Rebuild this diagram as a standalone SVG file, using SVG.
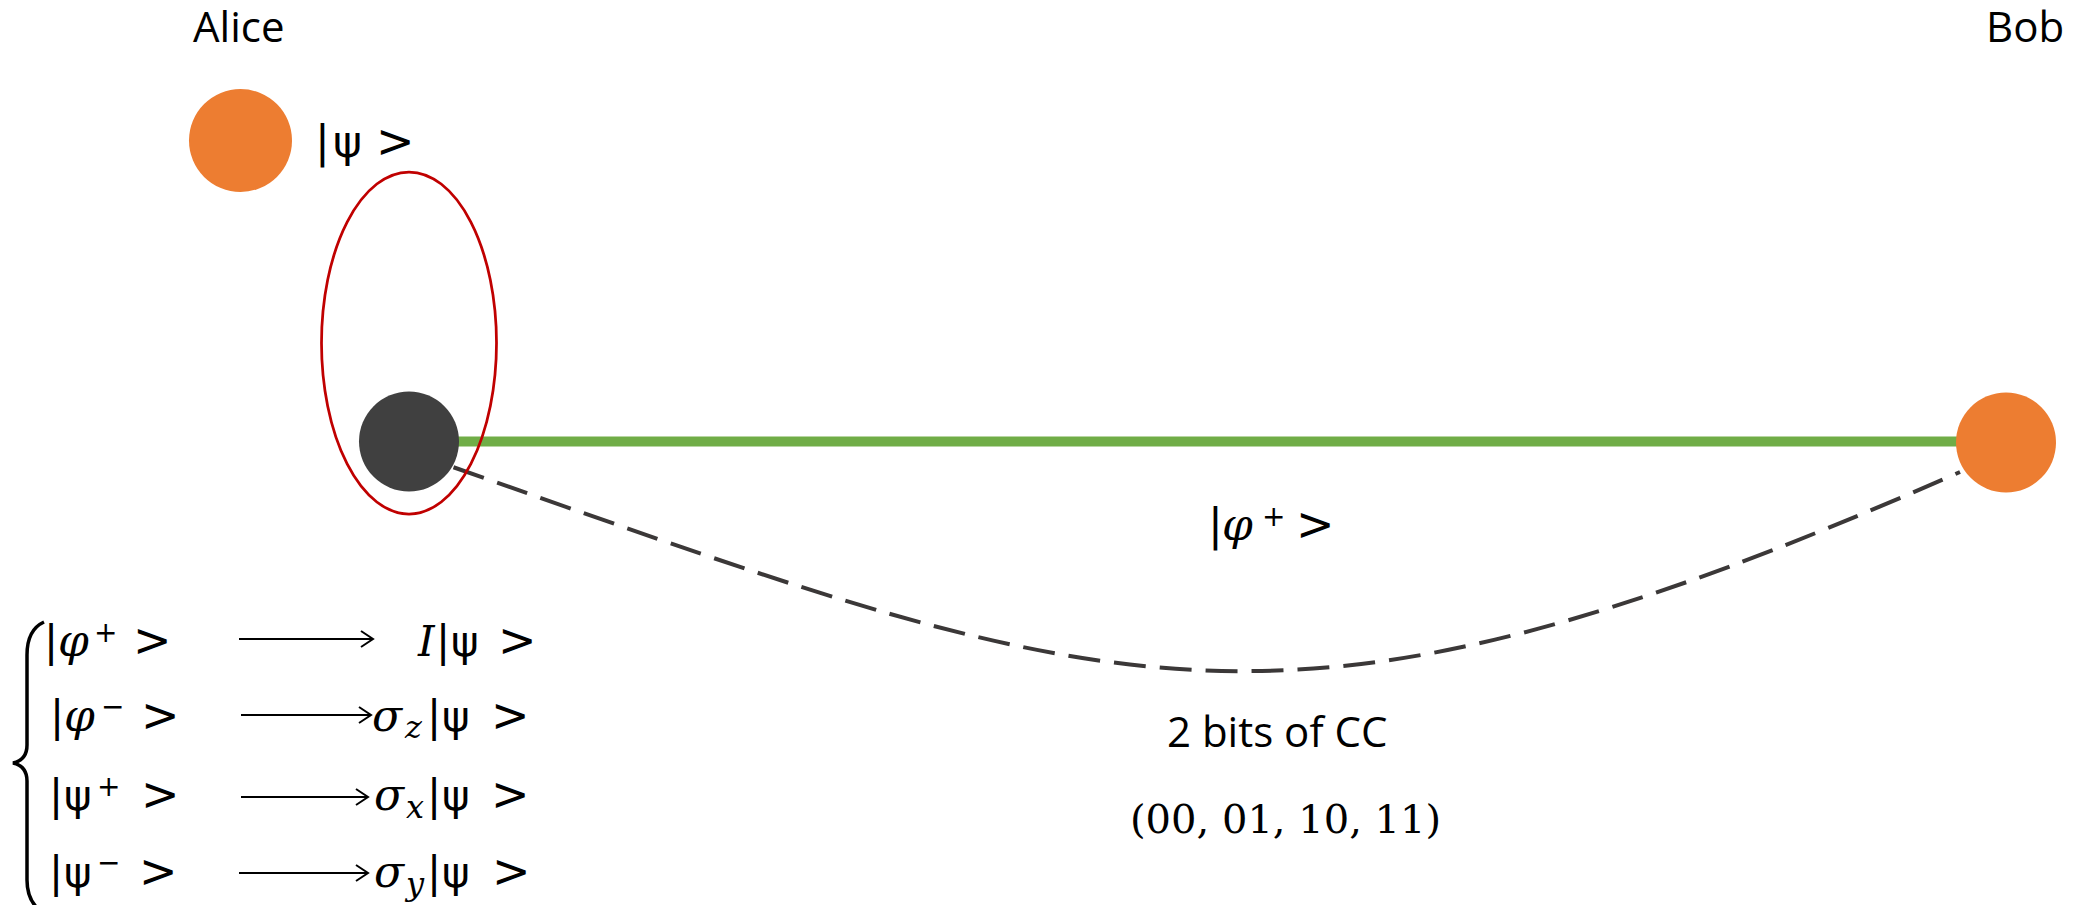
<svg xmlns="http://www.w3.org/2000/svg" width="2075" height="905" viewBox="0 0 2075 905">
<style>
.lbl{font-family:"Open Sans","Noto Sans",sans-serif;font-size:42px;fill:#000}
.s{font-family:"DejaVu Sans",sans-serif;fill:#000}
.m{font-family:"DejaVu Serif",serif;font-style:italic;fill:#000}
.n{font-family:"DejaVu Serif",serif;fill:#000}
.arr{stroke:#000;stroke-width:2;fill:none;marker-end:url(#ah)}
</style>
<defs>
<marker id="ah" markerUnits="userSpaceOnUse" markerWidth="16" markerHeight="20" refX="13" refY="9" orient="auto">
<path d="M1,1 L13,9 L1,17" fill="none" stroke="#000" stroke-width="2"/>
</marker>
</defs>
<rect width="2075" height="905" fill="#fff"/>

<g id="connectors">
<line id="epr-link" x1="455" y1="441.5" x2="1960" y2="441.5" stroke="#70AD47" stroke-width="10"/>
<path id="cc-link" d="M410,452 C1110,697 1260,780 1960,472" fill="none" stroke="#3B3838" stroke-width="4" stroke-dasharray="32 14"/>
</g>

<g id="alice-label"><text class="lbl" x="193" y="42">Alice</text></g>
<g id="bob-label"><text class="lbl" x="1986" y="42">Bob</text></g>

<g id="alice-qubit">
<circle cx="240.5" cy="140.5" r="51.5" fill="#ED7D31"/>
<text y="157"><tspan class="s" x="315" font-size="44">|</tspan><tspan class="s" x="333" font-size="44">ψ</tspan><tspan class="s" x="376" font-size="46">&gt;</tspan></text>
</g>

<g id="bell-measurement">
<ellipse cx="409" cy="343" rx="87.5" ry="171" fill="none" stroke="#C00000" stroke-width="2.75"/>
</g>

<g id="alice-epr">
<circle cx="409" cy="441.5" r="50" fill="#404040"/>
</g>

<g id="bob-qubit">
<circle cx="2006" cy="442.5" r="50" fill="#ED7D31"/>
</g>

<g id="epr-label">
<text y="540"><tspan class="s" x="1208" font-size="44">|</tspan><tspan class="m" x="1222" font-size="44">φ</tspan><tspan class="s" x="1262" y="526" font-size="28">+</tspan><tspan class="s" x="1296" y="540" font-size="46">&gt;</tspan></text>
</g>

<g id="cc-label">
<text class="lbl" x="1167" y="747">2 bits of CC</text>
<text class="n" x="1130" y="833" font-size="40">(00, 01, 10, 11)</text>
</g>

<g id="corrections">
<path d="M44,622 C33,627 27,638 27,655 L27,745 C27,755 22,761 13,763 C22,765 27,771 27,781 L27,880 C27,895 32,905 42,912" fill="none" stroke="#000" stroke-width="3.5"/>
<line class="arr" x1="239" y1="639" x2="373" y2="639"/>
<line class="arr" x1="241" y1="715" x2="371" y2="715"/>
<line class="arr" x1="241" y1="797" x2="368" y2="797"/>
<line class="arr" x1="239" y1="873" x2="368" y2="873"/>

<text y="656"><tspan class="s" x="44" font-size="42">|</tspan><tspan class="m" x="58" font-size="44">φ</tspan><tspan class="s" x="94" y="642" font-size="28">+</tspan><tspan class="s" x="133" y="656" font-size="46">&gt;</tspan></text>
<text y="656"><tspan class="m" x="418" font-size="42">I</tspan><tspan class="s" x="436" font-size="42">|</tspan><tspan class="s" x="451" font-size="42">ψ</tspan><tspan class="s" x="498" font-size="46">&gt;</tspan></text>

<text y="731"><tspan class="s" x="50" font-size="42">|</tspan><tspan class="m" x="64" font-size="44">φ</tspan><tspan class="s" x="101" y="716" font-size="28">−</tspan><tspan class="s" x="141" y="731" font-size="46">&gt;</tspan></text>
<text y="731"><tspan class="m" x="372" font-size="44">σ</tspan><tspan class="m" x="405" y="738" font-size="32">z</tspan><tspan class="s" x="427" y="731" font-size="42">|</tspan><tspan class="s" x="442" font-size="42">ψ</tspan><tspan class="s" x="491" font-size="46">&gt;</tspan></text>

<text y="810"><tspan class="s" x="49" font-size="42">|</tspan><tspan class="s" x="64" font-size="42">ψ</tspan><tspan class="s" x="97" y="796" font-size="28">+</tspan><tspan class="s" x="141" y="810" font-size="46">&gt;</tspan></text>
<text y="810"><tspan class="m" x="374" font-size="44">σ</tspan><tspan class="m" x="406" y="818" font-size="32">x</tspan><tspan class="s" x="427" y="810" font-size="42">|</tspan><tspan class="s" x="442" font-size="42">ψ</tspan><tspan class="s" x="491" font-size="46">&gt;</tspan></text>

<text y="887"><tspan class="s" x="49" font-size="42">|</tspan><tspan class="s" x="64" font-size="42">ψ</tspan><tspan class="s" x="97" y="872" font-size="28">−</tspan><tspan class="s" x="139" y="887" font-size="46">&gt;</tspan></text>
<text y="887"><tspan class="m" x="374" font-size="44">σ</tspan><tspan class="m" x="406" y="895" font-size="32">y</tspan><tspan class="s" x="427" y="887" font-size="42">|</tspan><tspan class="s" x="442" font-size="42">ψ</tspan><tspan class="s" x="492" font-size="46">&gt;</tspan></text>
</g>
</svg>
